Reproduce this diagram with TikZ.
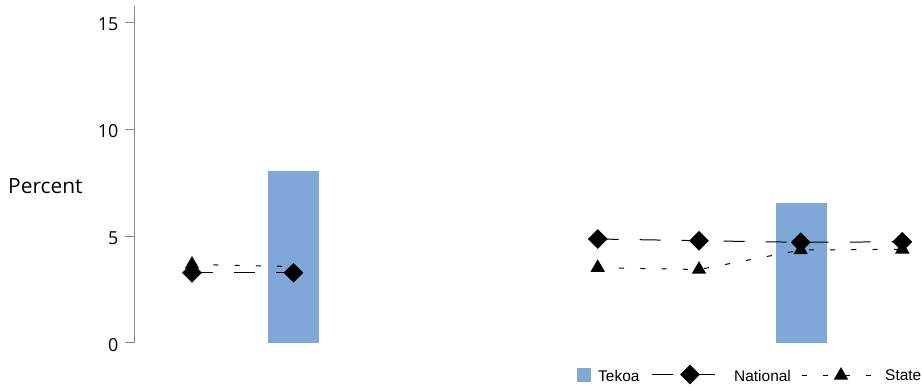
\documentclass[tikz,border=0pt]{standalone}
\usepackage{fontspec}
\setmainfont{Open Sans}
\newfontfamily\legfont{Liberation Sans}
\usetikzlibrary{shapes.geometric}
\definecolor{barblue}{RGB}{127,167,216}
\definecolor{axisgrey}{RGB}{134,134,134}
\begin{document}
\begin{tikzpicture}[x=1bp,y=-1bp,
 diam/.style={diamond,fill=black,inner sep=0,minimum width=20bp,minimum height=20bp},
 tri/.style={regular polygon,regular polygon sides=3,fill=black,inner sep=0,minimum size=16.8bp},
 natline/.style={line width=1bp,dash pattern=on 21bp off 21bp},
 stline/.style={line width=1bp,dash pattern=on 5bp off 16.3bp},
 bar/.style={fill=barblue,draw=none,inner sep=0,anchor=south west,minimum width=51bp},
 axisline/.style={axisgrey,line width=1bp},
 ticklab/.style={anchor=east,font=\fontsize{18}{20}\selectfont,inner sep=0},
 leg/.style={anchor=west,font=\legfont\fontsize{15.5}{18}\selectfont,inner sep=0}]
\useasboundingbox (0,0) rectangle (922,386);
% bars
\node[bar,minimum height=171.7bp] (bar1) at (268,342.7) {};
\node[bar,minimum height=139.7bp] (bar2) at (775.3,342.7) {};
% axis
\coordinate (atop) at (134.3,6);
\coordinate (abot) at (134.3,342.7);
\draw[axisline] (atop) -- (abot);
\foreach \v/\yy in {0/342.7,5/236,10/129.3,15/22.5}{
  \coordinate (t\v) at (134.3,\yy);
  \coordinate (tl\v) at (125,\yy);
  \draw[axisline] (tl\v) -- (t\v);
  \node[ticklab] (lab\v) at (118.5,\yy+2) {\v};
}
\node[anchor=west,inner sep=0,font=\fontsize{21}{24}\selectfont] (ylab) at (8,186) {Percent};
% data coordinates
\coordinate (n1) at (192,272.7);
\coordinate (n2) at (293.5,272.7);
\coordinate (n5) at (597.7,239);
\coordinate (n6) at (699,240.7);
\coordinate (n7) at (800.7,242.3);
\coordinate (n8) at (902.3,241.8);
\coordinate (s1) at (192,264.5);
\coordinate (s2) at (293.5,266.5);
\coordinate (s5) at (597.7,267.7);
\coordinate (s6) at (699,269.5);
\coordinate (s7) at (800.7,250);
\coordinate (s8) at (902.3,249.3);
% lines
\draw[natline] (n1) -- (n2);
\draw[natline] (n5) -- (n6) -- (n7) -- (n8);
\draw[stline] (s1) -- (s2);
\draw[stline] (s5) -- (s6) -- (s7) -- (s8);
% markers
\foreach \i in {1,5,6,7,8}{
  \node[tri] (tm\i) at (s\i) {};
}
\foreach \i in {1,2,5,6,7,8}{
  \node[diam] (dm\i) at (n\i) {};
}
% legend
\node[fill=barblue,minimum size=14bp,inner sep=0] (legsq) at (584.2,374.7) {};
\node[leg] (legt) at (598,375.5) {Tekoa};
\coordinate (lna) at (651.7,374.5);
\coordinate (lnb) at (715,374.5);
\draw[natline] (lna) -- (lnb);
\node[diam] (legdm) at (690,374.5) {};
\node[leg] (legn) at (734,375.5) {National};
\coordinate (lsa) at (802,375);
\coordinate (lsb) at (872,375);
\draw[stline] (lsa) -- (lsb);
\node[tri] (legtm) at (841,375.5) {};
\node[leg] (legs) at (885,375.5) {State};
\end{tikzpicture}
\end{document}
